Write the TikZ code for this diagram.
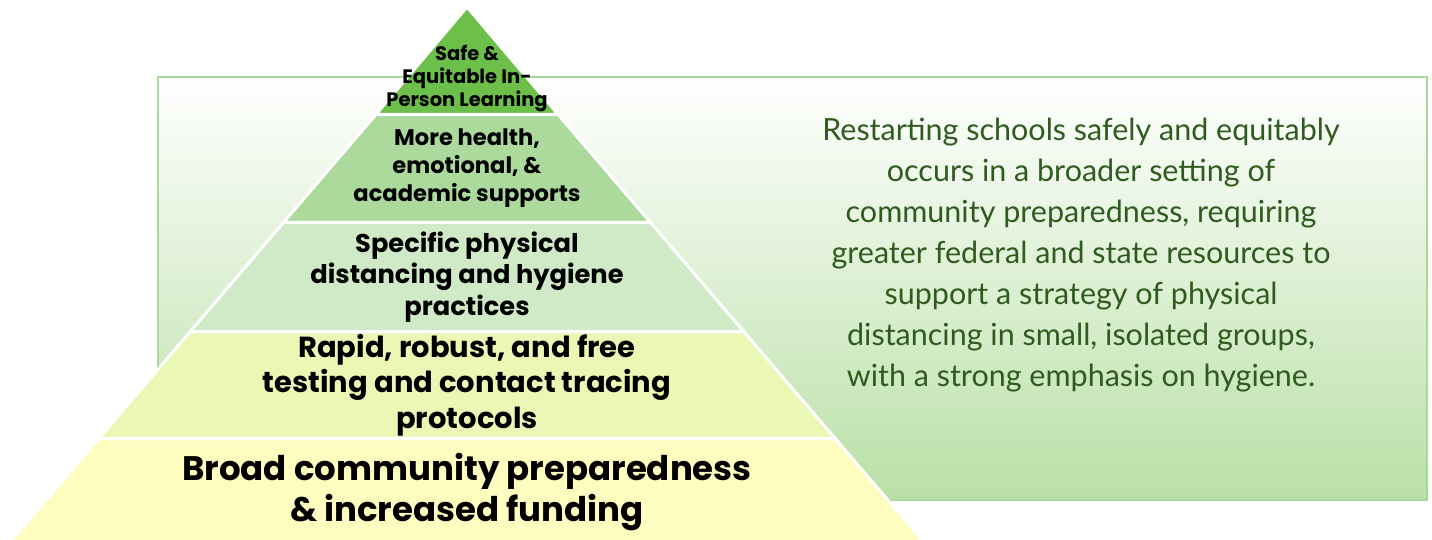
\documentclass[tikz,border=0pt]{standalone}
\usepackage{fontspec}
\newfontfamily\pyrfont{Poppins}
\newfontfamily\txtfont{Lato}
\definecolor{boxborder}{HTML}{A9D89A}
\definecolor{boxbottom}{HTML}{B9E0A6}
\definecolor{tierA}{HTML}{6CC04A}
\definecolor{tierB}{HTML}{ACDA9C}
\definecolor{tierC}{HTML}{D0EAC8}
\definecolor{tierD}{HTML}{EAF7B5}
\definecolor{tierE}{HTML}{FFFCC0}
\definecolor{txtgreen}{HTML}{2F5B1F}
\begin{document}
\begin{tikzpicture}[x=1pt,y=-1pt,
  tier/.style={draw=white,line width=3pt,line join=miter},
  pyrtext/.style={align=center,text=black,inner sep=0pt},
]
\useasboundingbox (0,0) rectangle (1432,540);
% background box
\shade[top color=white,bottom color=boxbottom] (158,77) rectangle (1427,500);
\draw[boxborder,line width=1.5pt] (158,77) rectangle (1427,500);
% pyramid tiers
\filldraw[fill=tierE,tier] (7.7,545) -- (98.8,438.5) -- (835.2,438.5) -- (926.3,545) -- cycle;
\filldraw[fill=tierD,tier] (98.8,438.5) -- (190.3,331.5) -- (743.7,331.5) -- (835.2,438.5) -- cycle;
\filldraw[fill=tierC,tier] (190.3,331.5) -- (283.5,222.5) -- (650.5,222.5) -- (743.7,331.5) -- cycle;
\filldraw[fill=tierB,tier] (283.5,222.5) -- (375.9,114.5) -- (558.1,114.5) -- (650.5,222.5) -- cycle;
\filldraw[fill=tierA,tier] (375.9,114.5) -- (467,7) -- (558.1,114.5) -- cycle;
% texts
\node[pyrtext,font=\pyrfont\bfseries\fontsize{19.5}{23}\selectfont] (t1) at (467,79) {Safe \&\\Equitable In-\\Person Learning};
\node[pyrtext,font=\pyrfont\bfseries\fontsize{22.6}{28}\selectfont] (t2) at (467,168) {More health,\\emotional, \&\\academic supports};
\node[pyrtext,font=\pyrfont\bfseries\fontsize{25.7}{31.5}\selectfont] (t3) at (467,277) {Specific physical\\distancing and hygiene\\practices};
\node[pyrtext,font=\pyrfont\bfseries\fontsize{29}{35.5}\selectfont] (t4) at (467,385) {Rapid, robust, and free\\testing and contact tracing\\protocols};
\node[pyrtext,font=\pyrfont\bfseries\fontsize{34}{41}\selectfont] (t5) at (467,492) {Broad community preparedness\\\& increased funding};
\node[align=center,text=txtgreen,inner sep=0pt,font=\txtfont\fontsize{30.5}{41}\selectfont] (desc) at (1081,255) {Restarting schools safely and equitably\\occurs in a broader setting of\\community preparedness, requiring\\greater federal and state resources to\\support a strategy of physical\\distancing in small, isolated groups,\\with a strong emphasis on hygiene.};
\end{tikzpicture}
\end{document}
